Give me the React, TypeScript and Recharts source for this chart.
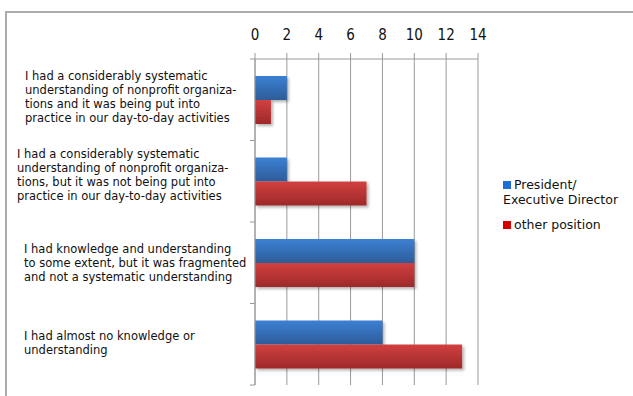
import React from 'react';
import { BarChart, Bar, XAxis, YAxis, CartesianGrid, Legend } from 'recharts';

// Survey answers, one entry per category (wrapped as they appear on the axis)
const CATEGORY_LINES: string[][] = [
  [
    'I had a considerably systematic',
    'understanding of nonprofit organiza-',
    'tions and it was being put into',
    'practice in our day-to-day activities',
  ],
  [
    'I had a considerably systematic',
    'understanding of nonprofit organiza-',
    'tions, but it was not being put into',
    'practice in our day-to-day activities',
  ],
  [
    'I had knowledge and understanding',
    'to some extent, but it was fragmented',
    'and not a systematic understanding',
  ],
  ['I had almost no knowledge or', 'understanding'],
];

const PRESIDENT_VALUES = [2, 2, 10, 8];
const OTHER_VALUES = [1, 7, 10, 13];
const X_TICKS = [0, 2, 4, 6, 8, 10, 12, 14];
const SERIES_NAMES = ['President/ Executive Director', 'other position'];

const data = CATEGORY_LINES.map((lines, i) => ({
  category: lines.join(' '),
  president: PRESIDENT_VALUES[i],
  other: OTHER_VALUES[i],
}));

const W = 633;
const H = 396;
const PLOT_LEFT = 255;
const PLOT_RIGHT = 478;
const PLOT_TOP = 59;
const PLOT_BOTTOM = 385;
const BAND = (PLOT_BOTTOM - PLOT_TOP) / CATEGORY_LINES.length;
const AXIS_GRAY = '#9a9a9a';
const LABEL_FONT = '"DejaVu Sans", Verdana, sans-serif';
const NUM_FONT = '"Liberation Sans Narrow", "DejaVu Sans Condensed", sans-serif';

const LABEL_X = [25, 17, 24, 24];
const LABEL_SHIFT = [-3, -6, 0, -1];
const LINE_H = 14;

const CategoryTick = (props: any) => {
  const { y, index } = props;
  const i = typeof index === 'number' ? index : 0;
  const lines = CATEGORY_LINES[i] || [];
  const center = y + LABEL_SHIFT[i];
  const first = center - ((lines.length - 1) * LINE_H) / 2 + 4;
  const top = y - BAND / 2;
  return (
    <g>
      <line x1={PLOT_LEFT - 5} x2={PLOT_LEFT} y1={top} y2={top} stroke={AXIS_GRAY} />
      {i === CATEGORY_LINES.length - 1 && (
        <line
          x1={PLOT_LEFT - 5}
          x2={PLOT_LEFT}
          y1={y + BAND / 2}
          y2={y + BAND / 2}
          stroke={AXIS_GRAY}
        />
      )}
      <text fontFamily={LABEL_FONT} fontSize={11.5} fill="#111">
        {lines.map((ln, k) => (
          <tspan key={k} x={LABEL_X[i]} y={first + k * LINE_H}>
            {ln}
          </tspan>
        ))}
      </text>
    </g>
  );
};

const ShadowBar = (props: any) => {
  const { x, y, width, height, fill } = props;
  if (!width || width <= 0) return null;
  return <rect x={x} y={y} width={width} height={height} fill={fill} filter="url(#barShadow)" />;
};

const LEGEND_COLORS = ['#1d6fd4', '#d40000'];

const LegendBox = () => (
  <div style={{ fontFamily: LABEL_FONT, fontSize: 12.5, color: '#111', width: 128, lineHeight: '15px' }}>
    {SERIES_NAMES.map((name, i) => (
      <div key={name} style={{ marginBottom: 10 }}>
        <span
          style={{
            display: 'inline-block',
            width: 8,
            height: 8,
            background: LEGEND_COLORS[i],
            marginRight: 3,
          }}
        />
        {name}
      </div>
    ))}
  </div>
);

export default function App() {
  return (
    <div style={{ position: 'absolute', left: 0, top: 0, width: W, height: H, background: '#fff', overflow: 'hidden' }}>
      <div
        style={{
          position: 'absolute',
          left: 5,
          top: 11,
          width: W + 20,
          height: H + 20,
          borderTop: '2px solid #ababab',
          borderLeft: '2px solid #ababab',
          boxSizing: 'border-box',
        }}
      />
      <div style={{ position: 'absolute', left: 0, top: 0 }}>
        <BarChart
          width={W}
          height={H}
          data={data}
          layout="vertical"
          margin={{ top: 0, right: W - PLOT_RIGHT, bottom: H - PLOT_BOTTOM, left: 0 }}
          barGap={0}
          barSize={24}
        >
          <defs>
            <linearGradient id="gradBlue" x1="0" y1="0" x2="0" y2="1">
              <stop offset="0%" stopColor="#3c80d4" />
              <stop offset="100%" stopColor="#2d5c98" />
            </linearGradient>
            <linearGradient id="gradRed" x1="0" y1="0" x2="0" y2="1">
              <stop offset="0%" stopColor="#d24040" />
              <stop offset="100%" stopColor="#9d2929" />
            </linearGradient>
            <filter id="barShadow" x="-10%" y="-20%" width="130%" height="160%">
              <feDropShadow dx="2" dy="2" stdDeviation="1.5" floodColor="#000" floodOpacity="0.3" />
            </filter>
          </defs>
          <CartesianGrid horizontal={false} stroke={AXIS_GRAY} strokeWidth={1} />
          <XAxis
            type="number"
            orientation="top"
            domain={[0, 14]}
            ticks={X_TICKS}
            interval={0}
            height={PLOT_TOP}
            axisLine={{ stroke: AXIS_GRAY }}
            tickLine={{ stroke: AXIS_GRAY }}
            tickSize={6}
            tickMargin={13}
            tick={{ fontFamily: NUM_FONT, fontSize: 15, fill: '#111' }}
          />
          <YAxis
            type="category"
            dataKey="category"
            width={PLOT_LEFT}
            interval={0}
            axisLine={{ stroke: AXIS_GRAY }}
            tickLine={false}
            tick={<CategoryTick />}
          />
          <Legend
            layout="vertical"
            align="center"
            verticalAlign="middle"
            content={() => <LegendBox />}
            wrapperStyle={{ position: 'absolute', left: 503, top: 177, width: 130 }}
          />
          <Bar
            dataKey="president"
            name={SERIES_NAMES[0]}
            fill="url(#gradBlue)"
            shape={<ShadowBar />}
            isAnimationActive={false}
          />
          <Bar
            dataKey="other"
            name={SERIES_NAMES[1]}
            fill="url(#gradRed)"
            shape={<ShadowBar />}
            isAnimationActive={false}
          />
        </BarChart>
      </div>
    </div>
  );
}
